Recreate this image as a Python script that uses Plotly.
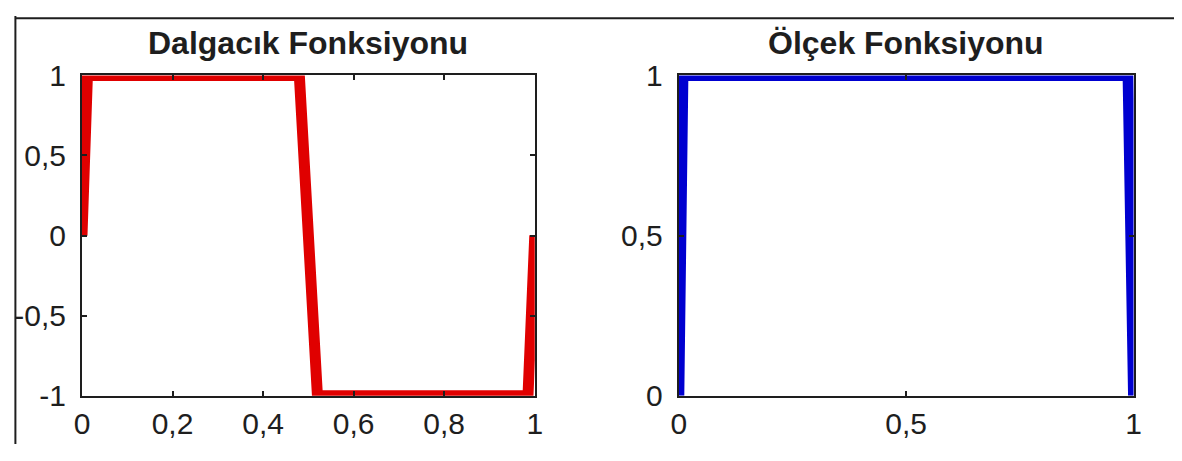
import plotly.graph_objects as go

# Haar wavelet (psi) and scaling function (phi) on [0, 1]
wavelet_x = [0.0, 0.012, 0.480, 0.520, 0.985, 1.0]
wavelet_y = [0, 1, 1, -1, -1, 0]

scaling_x = [0.0, 0.009, 0.988, 1.0]
scaling_y = [0, 1, 1, 0]

left_title = "Dalgacık Fonksiyonu"
right_title = "Ölçek Fonksiyonu"

left_xticks = [0, 0.2, 0.4, 0.6, 0.8, 1]
left_xlabels = ["0", "0,2", "0,4", "0,6", "0,8", "1"]
left_yticks = [-1, -0.5, 0, 0.5, 1]
left_ylabels = ["-1", "-0,5", "0", "0,5", "1"]

right_xticks = [0, 0.5, 1]
right_xlabels = ["0", "0,5", "1"]
right_yticks = [0, 0.5, 1]
right_ylabels = ["0", "0,5", "1"]

W, H = 1182, 461


def px_x(p):
    return p / W


def px_y(p):
    return 1 - p / H


FONT = "Liberation Sans, Arial, sans-serif"
INK = "#1e1e1e"

fig = go.Figure()
fig.add_trace(go.Scatter(x=wavelet_x, y=wavelet_y, mode="lines",
                         line=dict(color="#e00000", width=11),
                         xaxis="x", yaxis="y", showlegend=False))
fig.add_trace(go.Scatter(x=scaling_x, y=scaling_y, mode="lines",
                         line=dict(color="#0000d0", width=11),
                         xaxis="x2", yaxis="y2", showlegend=False))

axis_style = dict(
    showline=True, linecolor=INK, linewidth=2, mirror="ticks",
    ticks="inside", ticklen=5, tickwidth=1.5, tickcolor=INK,
    showgrid=False, zeroline=False, fixedrange=True,
    tickfont=dict(family=FONT, size=30, color=INK),
)

y_dom = [px_y(409), px_y(64)]

fig.update_layout(
    width=W, height=H,
    margin=dict(l=0, r=0, t=0, b=0),
    paper_bgcolor="white", plot_bgcolor="white",
    xaxis=dict(domain=[px_x(75), px_x(534)], range=[0, 1],
               tickvals=left_xticks, ticktext=left_xlabels,
               anchor="y", **axis_style),
    yaxis=dict(domain=y_dom, range=[-1, 1],
               tickvals=left_yticks, ticktext=left_ylabels,
               ticklabelstandoff=8, anchor="x", **axis_style),
    xaxis2=dict(domain=[px_x(680), px_x(1141)], range=[0, 1],
                tickvals=right_xticks, ticktext=right_xlabels,
                anchor="y2", **axis_style),
    yaxis2=dict(domain=y_dom, range=[0, 1],
                tickvals=right_yticks, ticktext=right_ylabels,
                ticklabelstandoff=8, anchor="x2", **axis_style),
    annotations=[
        dict(text=left_title, x=(px_x(75) + px_x(534)) / 2, y=px_y(29),
             xref="paper", yref="paper", xanchor="center", yanchor="middle",
             showarrow=False,
             font=dict(family=FONT, size=32, color=INK, weight="bold")),
        dict(text=right_title, x=(px_x(680) + px_x(1141)) / 2, y=px_y(29),
             xref="paper", yref="paper", xanchor="center", yanchor="middle",
             showarrow=False,
             font=dict(family=FONT, size=32, color=INK, weight="bold")),
    ],
    shapes=[
        dict(type="line", xref="paper", yref="paper",
             x0=px_x(7.5), x1=px_x(7.5), y0=0, y1=1,
             line=dict(color=INK, width=2), layer="below"),
        dict(type="line", xref="paper", yref="paper",
             x0=px_x(7.5), x1=1, y0=px_y(2.5), y1=px_y(2.5),
             line=dict(color=INK, width=2), layer="below"),
    ],
)

fig.write_html("out.html")
